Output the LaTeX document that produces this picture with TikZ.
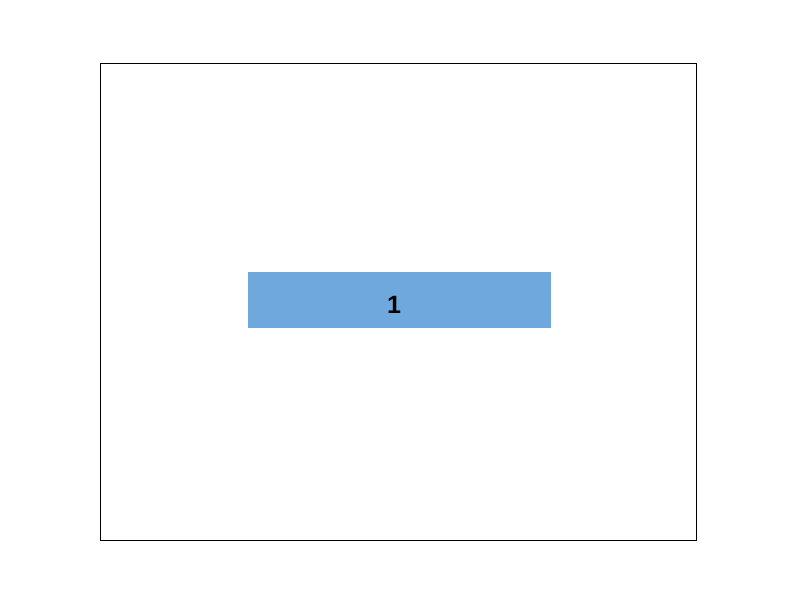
\documentclass[tikz,border=0pt]{standalone}
\usepackage{fontspec}
\setmainfont{Liberation Sans}
\definecolor{boxblue}{HTML}{6FA8DC}
\begin{document}
\begin{tikzpicture}[x=1pt,y=-1pt,
  frame/.style={draw=black,line width=1pt},
  bar/.style={fill=boxblue,draw=none,minimum width=303pt,minimum height=56pt,inner sep=0pt},
  barlabel/.style={font=\fontsize{25}{29}\selectfont\bfseries,inner sep=0pt}]
\useasboundingbox[fill=white] (0,0) rectangle (800,600);
\draw[frame] (100,63) rectangle (696,540);
\node[bar] (one) at (399.5,299.5) {};
\node[barlabel] (onelabel) at (394,305) {1};
\end{tikzpicture}
\end{document}
